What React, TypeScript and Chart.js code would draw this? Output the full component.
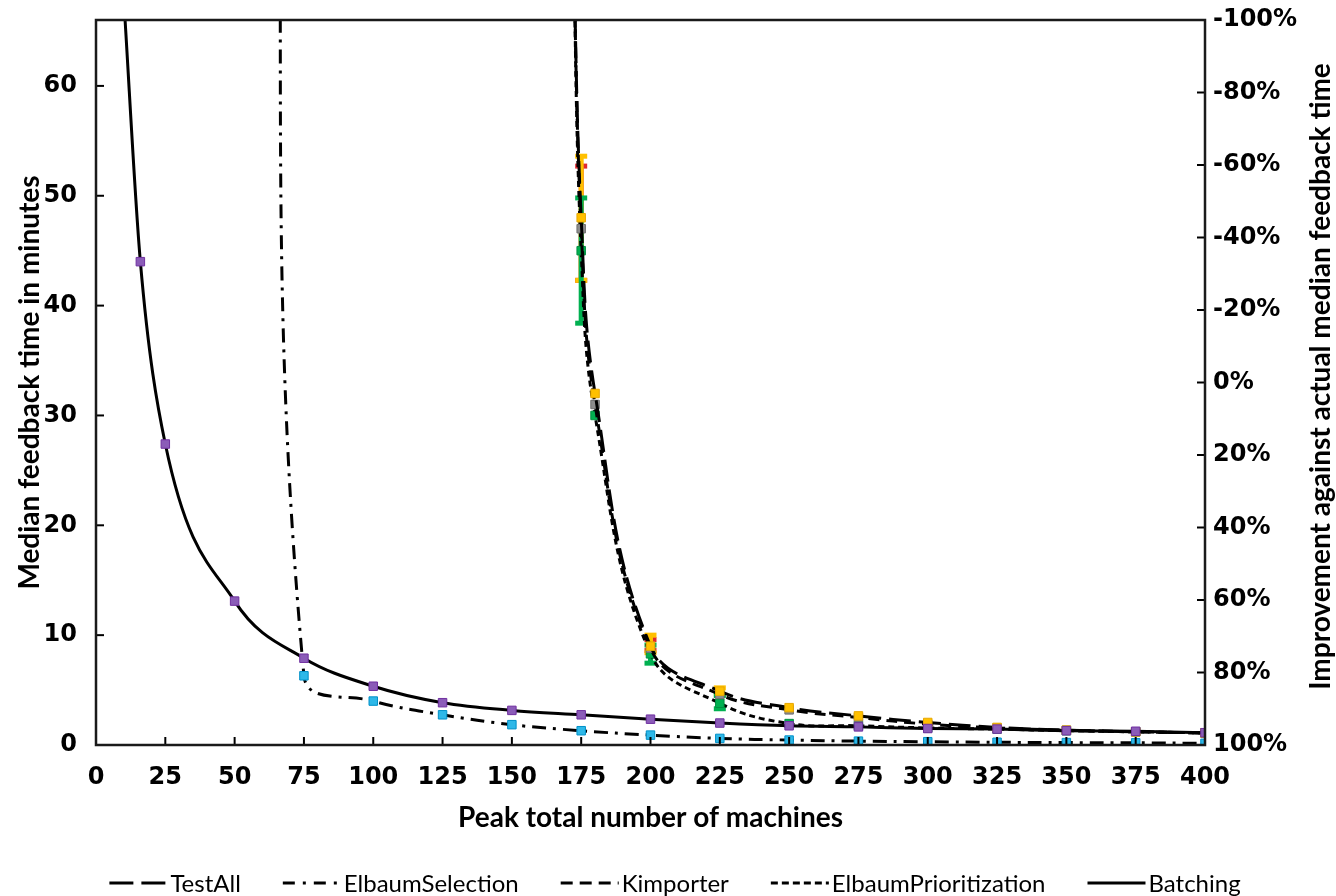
import React, { useEffect, useRef } from "react";
import { Chart, registerables } from "chart.js";

Chart.register(...registerables);

// ---------- data ----------
const seriesNames = ["TestAll", "ElbaumSelection", "Kimporter", "ElbaumPrioritization", "Batching"];

const batchingX = [10, 16, 25, 50, 75, 100, 125, 150, 175, 200, 225, 250, 275, 300, 325, 350, 375, 400];
const batchingY = [68, 44.0, 27.4, 13.1, 7.9, 5.35, 3.85, 3.15, 2.75, 2.35, 2.0, 1.75, 1.65, 1.5, 1.45, 1.3, 1.25, 1.12];

const selectionX = [65, 75, 100, 125, 150, 175, 200, 225, 250, 275, 300, 325, 350, 375, 400];
const selectionY = [100, 6.3, 4.0, 2.75, 1.85, 1.3, 0.9, 0.6, 0.45, 0.35, 0.3, 0.25, 0.22, 0.2, 0.15];

const familyX = [172, 175, 180, 200, 225, 250, 275, 300, 325, 350, 375, 400];
const testAllY = [75, 48, 32, 9.0, 4.9, 3.4, 2.65, 2.05, 1.6, 1.35, 1.2, 1.1];
const testAllLow = [null, 42.3, null, 8.4, 4.6, null, null, null, null, null, null, null];
const testAllHigh = [null, 53.6, null, 10.0, 5.2, null, null, null, null, null, null, null];

const kimporterY = [75, 47, 31, 8.8, 4.6, 3.2, 2.5, 1.9, 1.55, 1.35, 1.2, 1.1];
const kimporterLow = [null, 42.3, null, 8.6, null, null, null, null, null, null, null, null];
const kimporterHigh = [null, 52.7, null, 9.6, null, null, null, null, null, null, null, null];

const prioY = [75, 45, 30, 8.3, 3.8, 1.95, 1.75, 1.55, 1.45, 1.3, 1.2, 1.1];
const prioLow = [null, 38.4, null, 7.45, 3.3, null, null, null, null, null, null, null];
const prioHigh = [null, 49.8, null, 9.1, 4.5, null, null, null, null, null, null, null];

const xTitle = "Peak total number of machines";
const yTitle = "Median feedback time in minutes";
const y2Title = "Improvement against actual median feedback time";

// ---------- styles ----------
const TICK_FONT = { family: "DejaVu Sans", size: 24, weight: "bold" as const };
const TITLE_FONT_FAMILY = "Lato";
const TITLE_SIZE = 28;

const zip = (xs: number[], ys: number[]) => xs.map((x, i) => ({ x, y: ys[i] }));

const errorSets = [
  { xs: familyX, lo: kimporterLow, hi: kimporterHigh, color: "#E0282E" },
  { xs: familyX, lo: testAllLow, hi: testAllHigh, color: "#FFC000" },
  { xs: familyX, lo: prioLow, hi: prioHigh, color: "#00B050" },
];

const legendDefs = [
  { name: seriesNames[0], dash: [24, 8] },
  { name: seriesNames[1], dash: [12, 8, 3, 8] },
  { name: seriesNames[2], dash: [12, 7] },
  { name: seriesNames[3], dash: [7, 4] },
  { name: seriesNames[4], dash: [] as number[] },
];

const decorPlugin = {
  id: "decor",
  beforeDatasetsDraw(chart: any) {
    const { ctx, scales } = chart;
    const xs = scales.x;
    const ys = scales.y;
    ctx.save();
    errorSets.forEach((s) => {
      s.xs.forEach((x, i) => {
        const lo = s.lo[i];
        const hi = s.hi[i];
        if (lo == null || hi == null) return;
        const px = xs.getPixelForValue(x);
        const p1 = ys.getPixelForValue(lo);
        const p2 = ys.getPixelForValue(hi);
        ctx.strokeStyle = s.color;
        ctx.lineWidth = 5;
        ctx.beginPath();
        ctx.moveTo(px, p1);
        ctx.lineTo(px, p2);
        ctx.stroke();
        ctx.fillStyle = s.color;
        ctx.fillRect(px - 6, p1 - 2.5, 12, 5);
        ctx.fillRect(px - 6, p2 - 2.5, 12, 5);
      });
    });
    ctx.restore();
  },
  afterDraw(chart: any) {
    const { ctx, chartArea: a, scales } = chart;
    ctx.save();
    ctx.strokeStyle = "#000";
    ctx.lineWidth = 2;
    ctx.setLineDash([]);
    const tl = 8;
    scales.x.ticks.forEach((t: any) => {
      const px = scales.x.getPixelForValue(t.value);
      ctx.beginPath();
      ctx.moveTo(px, a.bottom);
      ctx.lineTo(px, a.bottom - tl);
      ctx.stroke();
    });
    scales.y.ticks.forEach((t: any) => {
      const py = scales.y.getPixelForValue(t.value);
      ctx.beginPath();
      ctx.moveTo(a.left, py);
      ctx.lineTo(a.left + tl, py);
      ctx.stroke();
    });
    scales.y2.ticks.forEach((t: any) => {
      const py = scales.y2.getPixelForValue(t.value);
      ctx.beginPath();
      ctx.moveTo(a.right, py);
      ctx.lineTo(a.right - tl, py);
      ctx.stroke();
    });
    ctx.lineWidth = 2.5;
    ctx.strokeStyle = "#1a1a1a";
    ctx.strokeRect(a.left, a.top, a.right - a.left, a.bottom - a.top);

    // right title (reads bottom-to-top)
    ctx.save();
    ctx.fillStyle = "#000";
    ctx.font = `bold ${TITLE_SIZE}px ${TITLE_FONT_FAMILY}`;
    ctx.translate(chart.width - 15, (a.top + a.bottom) / 2 - 6);
    ctx.rotate(-Math.PI / 2);
    ctx.textAlign = "center";
    ctx.textBaseline = "middle";
    ctx.fillText(y2Title, 0, 0);
    ctx.restore();

    // legend
    ctx.font = `24px ${TITLE_FONT_FAMILY}`;
    ctx.textBaseline = "middle";
    ctx.textAlign = "left";
    ctx.fillStyle = "#000";
    const sampleW = 58;
    const sGap = 3;
    const itemGap = 42;
    const widths = legendDefs.map((d) => ctx.measureText(d.name).width);
    const total = widths.reduce((s, w) => s + w + sampleW + sGap, 0) + itemGap * (legendDefs.length - 1);
    let x = chart.width / 2 + 7 - total / 2;
    const y = 883;
    legendDefs.forEach((d, i) => {
      ctx.strokeStyle = "#000";
      ctx.lineWidth = 3;
      ctx.setLineDash(d.dash);
      ctx.beginPath();
      ctx.moveTo(x, y);
      ctx.lineTo(x + sampleW, y);
      ctx.stroke();
      ctx.setLineDash([]);
      ctx.fillText(d.name, x + sampleW + sGap, y + 1);
      x += sampleW + sGap + widths[i] + itemGap;
    });
    ctx.restore();
  },
};

export default function App() {
  const ref = useRef<HTMLCanvasElement | null>(null);

  useEffect(() => {
    document.body.style.margin = "0";
    const canvas = ref.current;
    if (!canvas) return;

    const lineBase = {
      borderColor: "#000",
      borderWidth: 3,
      tension: 0.4,
      pointStyle: "rect" as const,
      pointRadius: 6,
      pointBorderWidth: 1,
      fill: false,
    };

    const chart = new Chart(canvas, {
      type: "line",
      data: {
        datasets: [
          {
            ...lineBase,
            label: seriesNames[4],
            data: zip(batchingX, batchingY),
            cubicInterpolationMode: "monotone",
            pointBackgroundColor: "#8B5CB8",
            pointBorderColor: "#7030A0",
          },
          {
            ...lineBase,
            label: seriesNames[1],
            data: zip(selectionX, selectionY),
            borderDash: [14, 7, 3, 7],
            pointBackgroundColor: "#2EB8E8",
            pointBorderColor: "#0090C8",
          },
          {
            ...lineBase,
            label: seriesNames[0],
            data: zip(familyX, testAllY),
            borderDash: [22, 8],
            pointBackgroundColor: "#FFC000",
            pointBorderColor: "#E8A800",
          },
          {
            ...lineBase,
            label: seriesNames[2],
            data: zip(familyX, kimporterY),
            borderDash: [11, 7],
            pointBackgroundColor: "#8C8C8C",
            pointBorderColor: "#707070",
          },
          {
            ...lineBase,
            label: seriesNames[3],
            data: zip(familyX, prioY),
            borderDash: [6, 4],
            pointBackgroundColor: "#00B050",
            pointBorderColor: "#009040",
          },
        ],
      },
      options: {
        responsive: false,
        animation: false,
        layout: { padding: { top: 20, bottom: 60, left: 0, right: 0 } },
        plugins: {
          legend: { display: false },
          tooltip: { enabled: false },
        },
        scales: {
          x: {
            type: "linear",
            min: 0,
            max: 400,
            grid: { display: false, drawTicks: false },
            border: { display: false },
            ticks: { stepSize: 25, color: "#000", font: TICK_FONT, padding: 18, maxRotation: 0 },
            title: {
              display: true,
              text: xTitle,
              color: "#000",
              font: { family: TITLE_FONT_FAMILY, size: TITLE_SIZE, weight: "bold" },
              padding: { top: 2, bottom: 1 },
            },
            afterFit: (s: any) => {
              s.height = 91;
            },
          },
          y: {
            type: "linear",
            position: "left",
            min: 0,
            max: 66,
            grid: { display: false, drawTicks: false },
            border: { display: false },
            ticks: { stepSize: 10, includeBounds: false, color: "#000", font: TICK_FONT, padding: 19 },
            title: {
              display: true,
              text: yTitle,
              color: "#000",
              font: { family: TITLE_FONT_FAMILY, size: TITLE_SIZE, weight: "bold" },
              padding: { top: 13, bottom: 0 },
            },
            afterFit: (s: any) => {
              s.width = 96;
              s.paddingTop = 0;
              s.paddingBottom = 0;
            },
          },
          y2: {
            type: "linear",
            position: "right",
            min: -1,
            max: 1,
            reverse: true,
            grid: { display: false, drawTicks: false },
            border: { display: false },
            ticks: {
              stepSize: 0.2,
              color: "#000",
              font: TICK_FONT,
              padding: 8,
              callback: (v: any) => `${Math.round(Number(v) * 100)}%`,
            },
            afterFit: (s: any) => {
              s.width = 131;
              s.paddingTop = 0;
              s.paddingBottom = 0;
            },
          },
        },
      } as any,
      plugins: [decorPlugin],
    });

    return () => chart.destroy();
  }, []);

  return (
    <div style={{ position: "absolute", left: 0, top: 0, width: 1336, height: 896 }}>
      <canvas ref={ref} width={1336} height={896} style={{ display: "block", width: 1336, height: 896 }} />
    </div>
  );
}
